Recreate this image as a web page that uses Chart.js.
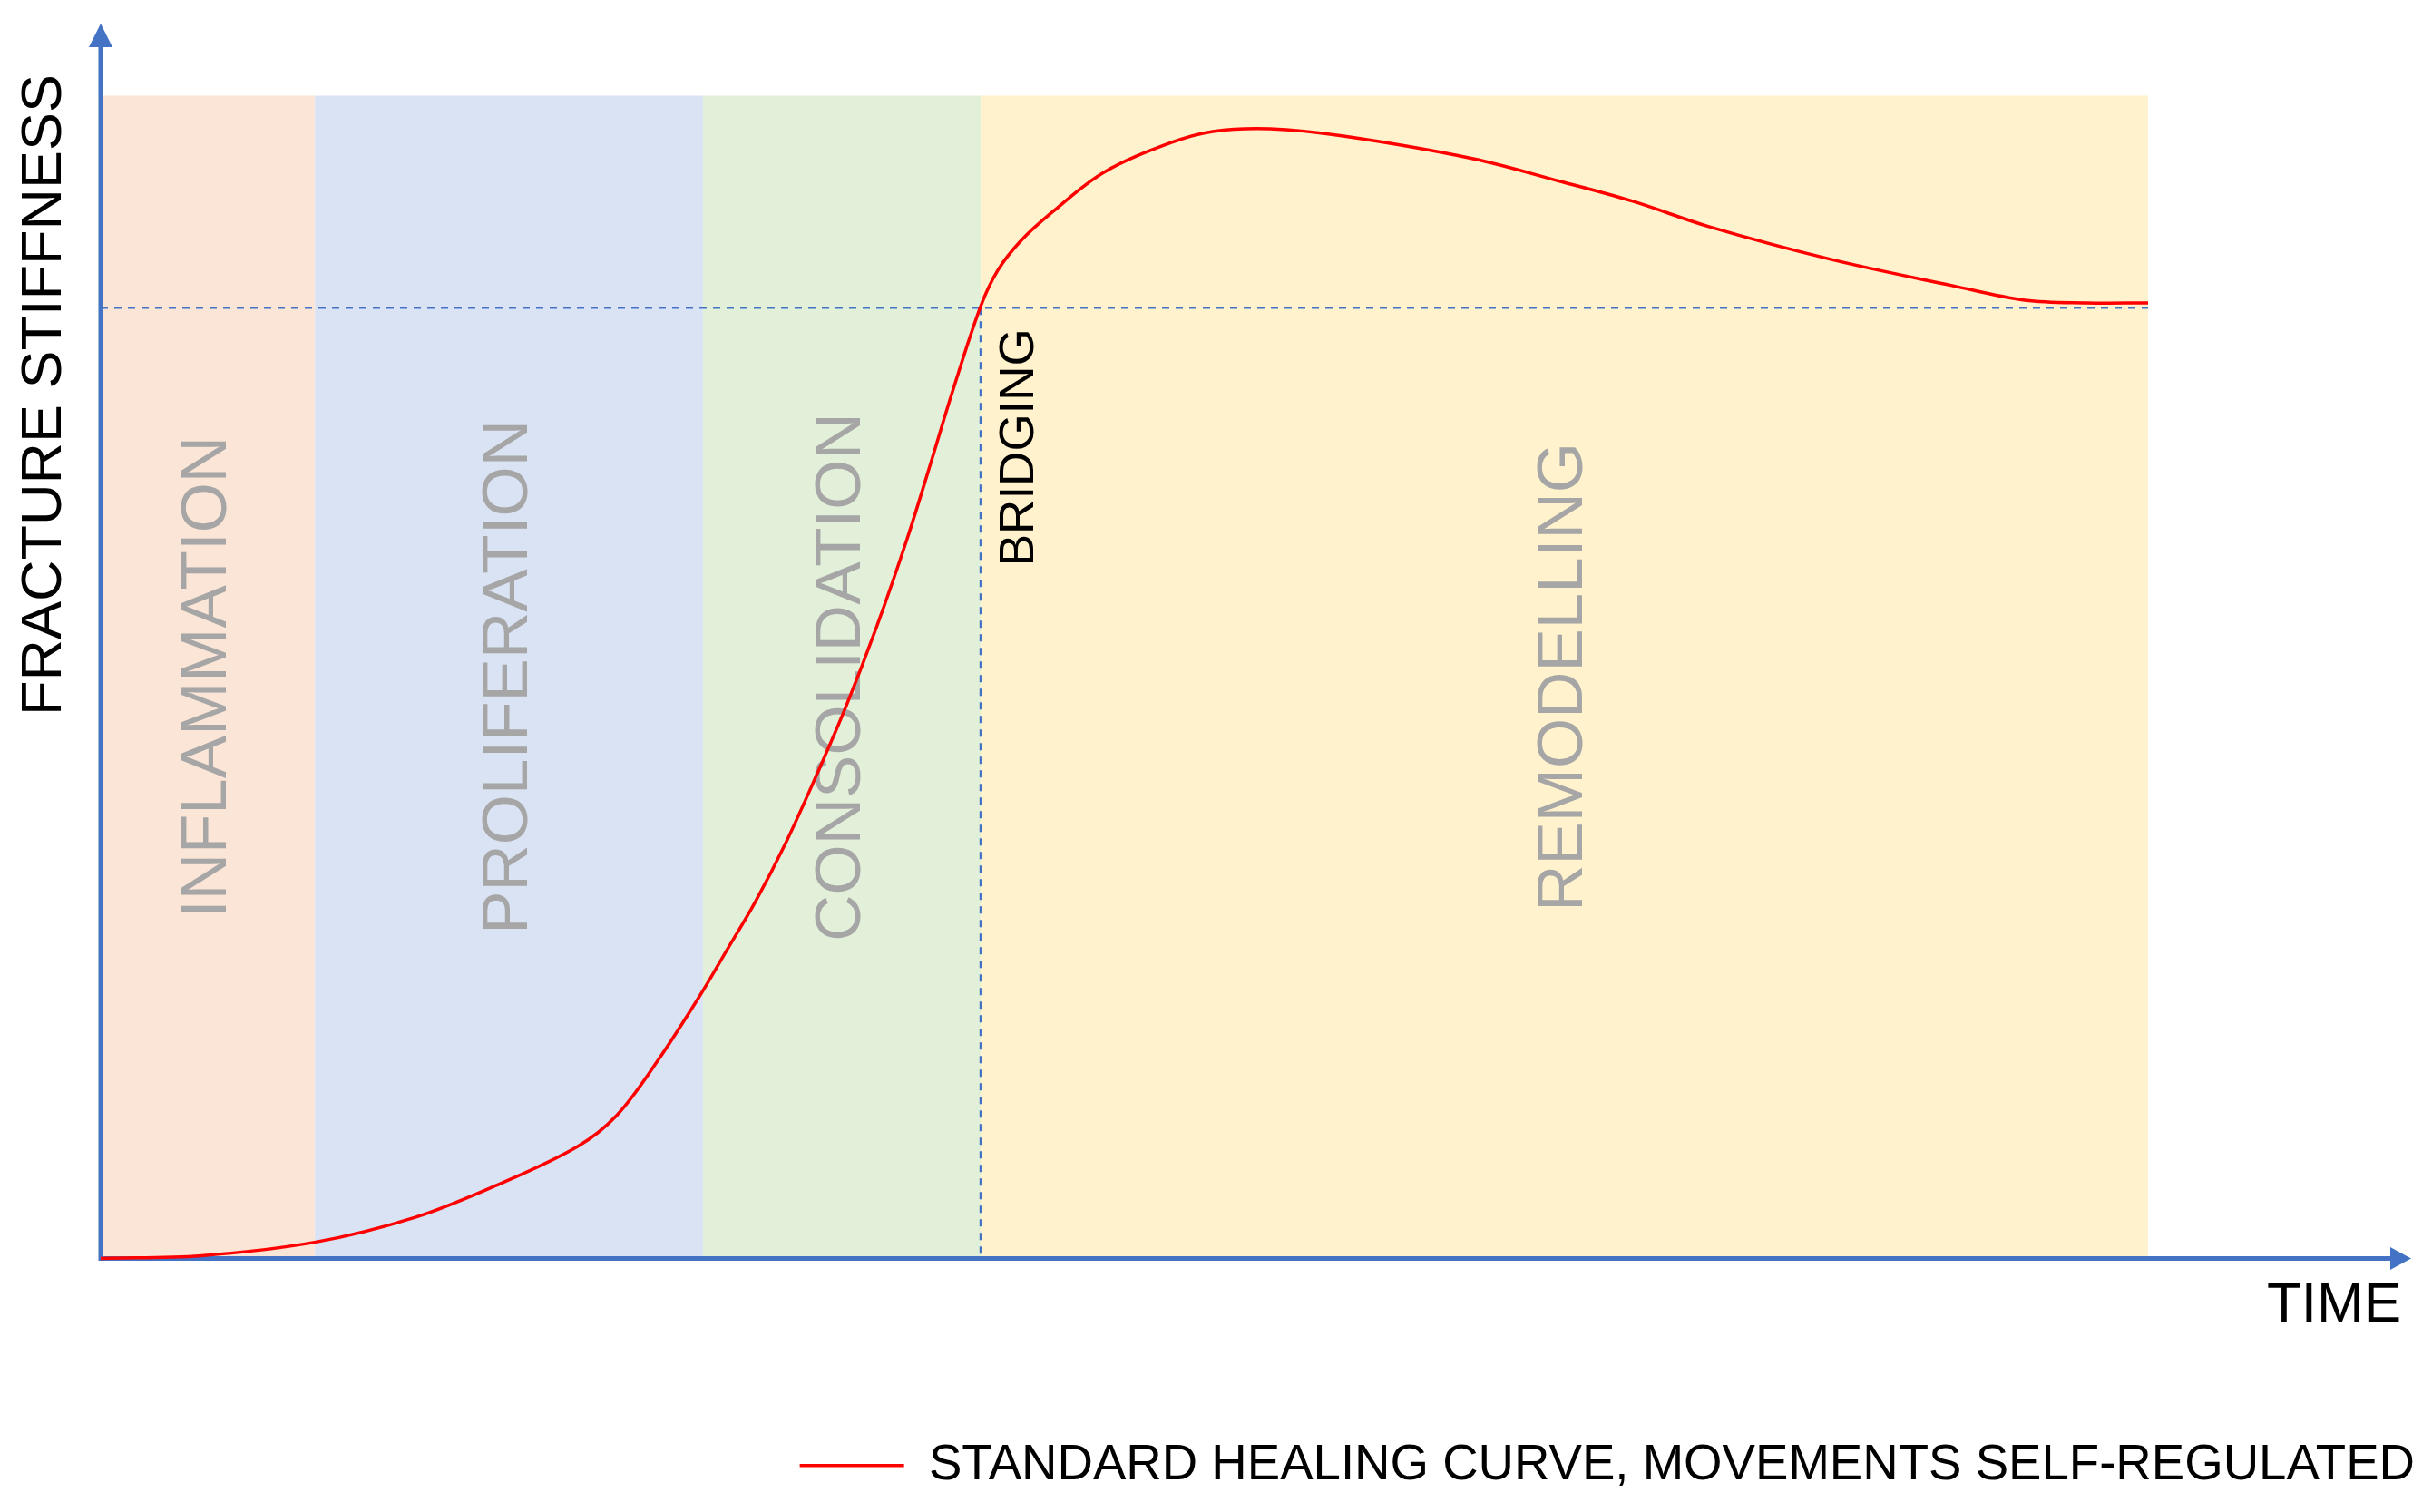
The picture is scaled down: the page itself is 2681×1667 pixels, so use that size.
<!DOCTYPE html>
<html>
<head>
<meta charset="utf-8">
<script src="https://cdn.jsdelivr.net/npm/chart.js@4.4.1/dist/chart.umd.min.js"></script>
<style>
html,body{margin:0;padding:0;background:#ffffff;}
canvas{display:block;}
</style>
</head>
<body>
<canvas id="c" width="2681" height="1667"></canvas>
<script>
// ---------- data ----------
const curveX = [0, 4.38, 9.35, 13.64, 17.15, 20.70, 22.44, 24.21, 26.10, 27.17, 28.47, 29.81, 31.10, 32.41, 33.75, 35.06, 36.12, 37.03, 38.25, 39.00, 39.98, 41.36, 43.61, 46.45, 48.34, 50.83, 54.02, 59.66, 63.45, 66.60, 69.91, 75.20, 80.48, 83.64, 86.32, 89.00];
const curveY = [0, 0.23, 1.38, 3.45, 6.13, 9.42, 12.10, 16.69, 22.36, 25.88, 30.17, 35.22, 40.74, 46.67, 53.45, 60.80, 67.41, 73.22, 80.40, 83.46, 85.91, 88.36, 91.73, 94.18, 95.18, 95.41, 94.79, 92.88, 90.96, 89.28, 87.14, 84.38, 82.16, 80.93, 80.70, 80.70];

const phaseNames  = ['INFLAMMATION', 'PROLIFERATION', 'CONSOLIDATION', 'REMODELLING'];
const phaseStarts = [0, 9.31, 26.18, 38.25];
const phaseEnds   = [9.31, 26.18, 38.25, 89.0];
const phaseTop    = 98.2;

const bridgingX = 38.25;
const bridgingY = 80.3;

const xMax = 100;
const yMax = 100;

const legendLabel = 'STANDARD HEALING CURVE, MOVEMENTS SELF-REGULATED';
const xTitle = 'TIME';
const yTitle = 'FRACTURE STIFFNESS';
const bridgingLabel = 'BRIDGING';

// ---------- styles ----------
const phaseColors = ['#fbe5d6', '#dae3f3', '#e2f0d9', '#fff2cc'];
const AXIS = '#4472c4';
const FONT = '"Liberation Sans", Arial, Helvetica, sans-serif';

Chart.defaults.font.family = FONT;
Chart.defaults.color = '#000000';

const datasets = [];
datasets.push({
  label: legendLabel,
  data: curveX.map((x, i) => ({x: x, y: curveY[i]})),
  borderColor: '#ff0000',
  backgroundColor: '#ff0000',
  borderWidth: 3.5,
  pointRadius: 0,
  tension: 0.35,
  fill: false,
  clip: false,
  order: 0
});
datasets.push({
  label: 'bridgingLevel',
  data: [{x: 0, y: bridgingY}, {x: phaseEnds[3], y: bridgingY}],
  borderColor: AXIS, borderWidth: 2.5, borderDash: [8, 7],
  pointRadius: 0, fill: false, clip: false, order: 1
});
datasets.push({
  label: 'bridgingTime',
  data: [{x: bridgingX, y: bridgingY}, {x: bridgingX, y: 0}],
  borderColor: AXIS, borderWidth: 2.5, borderDash: [8, 7],
  pointRadius: 0, fill: false, clip: false, order: 1
});
phaseNames.forEach((n, i) => {
  datasets.push({
    label: n,
    data: [{x: phaseStarts[i], y: phaseTop}, {x: phaseEnds[i], y: phaseTop}],
    borderColor: 'transparent', borderWidth: 0,
    backgroundColor: phaseColors[i],
    fill: 'origin', pointRadius: 0, order: 2
  });
});

let decorDone = false;
function drawDecor(chart) {
  const ctx = chart.ctx, a = chart.chartArea, xs = chart.scales.x, ys = chart.scales.y;
  ctx.save();
  // phase labels
  ctx.fillStyle = '#a6a6a6';
  ctx.font = '71px ' + FONT;
  ctx.textAlign = 'center';
  ctx.textBaseline = 'middle';
  phaseNames.forEach((n, i) => {
    const cx = (xs.getPixelForValue(phaseStarts[i]) + xs.getPixelForValue(phaseEnds[i])) / 2;
    const cy = (ys.getPixelForValue(0) + ys.getPixelForValue(phaseTop)) / 2;
    ctx.save();
    ctx.translate(cx, cy);
    ctx.rotate(-Math.PI / 2);
    ctx.fillText(n, 0, 0);
    ctx.restore();
  });
  // BRIDGING
  ctx.save();
  ctx.fillStyle = '#000000';
  ctx.font = '53px ' + FONT;
  ctx.textAlign = 'right';
  ctx.textBaseline = 'middle';
  ctx.translate(xs.getPixelForValue(bridgingX) + 43, ys.getPixelForValue(bridgingY) + 23);
  ctx.rotate(-Math.PI / 2);
  ctx.fillText(bridgingLabel, 0, 0);
  ctx.restore();
  // axes with arrows
  const x0 = xs.getPixelForValue(0), y0 = ys.getPixelForValue(0);
  ctx.strokeStyle = AXIS;
  ctx.fillStyle = AXIS;
  ctx.lineWidth = 5;
  ctx.beginPath();
  ctx.moveTo(x0, y0 + 2.5);
  ctx.lineTo(x0, a.top - 30);
  ctx.moveTo(x0 - 2.5, y0);
  ctx.lineTo(a.right - 12, y0);
  ctx.stroke();
  ctx.beginPath();
  ctx.moveTo(x0, a.top - 56);
  ctx.lineTo(x0 - 13, a.top - 30);
  ctx.lineTo(x0 + 13, a.top - 30);
  ctx.closePath();
  ctx.fill();
  ctx.beginPath();
  ctx.moveTo(a.right + 11, y0);
  ctx.lineTo(a.right - 12, y0 - 12.5);
  ctx.lineTo(a.right - 12, y0 + 12.5);
  ctx.closePath();
  ctx.fill();
  ctx.restore();
}

const decorPlugin = {
  id: 'decor',
  beforeDatasetsDraw() { decorDone = false; },
  beforeDatasetDraw(chart, args) {
    const ds = chart.data.datasets[args.index];
    if (decorDone || ds.order === 2) return;
    decorDone = true;
    drawDecor(chart);
  },
  afterDatasetsDraw(chart) {
    if (!decorDone) { decorDone = true; drawDecor(chart); }
  }
};

new Chart(document.getElementById('c'), {
  type: 'line',
  data: { datasets: datasets },
  options: {
    responsive: false,
    animation: false,
    devicePixelRatio: 1,
    layout: { padding: { left: 0, right: 0, top: 82, bottom: 14 } },
    plugins: {
      tooltip: { enabled: false },
      legend: {
        display: true,
        position: 'bottom',
        align: 'end',
        labels: {
          filter: (item) => item.datasetIndex === 0,
          usePointStyle: true,
          pointStyle: 'line',
          pointStyleWidth: 115,
          padding: 19,
          color: '#000000',
          font: { size: 54.6, family: FONT }
        }
      }
    },
    scales: {
      x: {
        type: 'linear',
        min: 0, max: xMax,
        grid: { display: false, drawTicks: false },
        border: { display: false },
        ticks: { display: false },
        title: {
          display: true, text: xTitle, align: 'end', color: '#000000',
          font: { size: 62, family: FONT },
          padding: { top: 15.8, bottom: 91.8 }
        }
      },
      y: {
        type: 'linear',
        position: 'left',
        min: 0, max: yMax,
        grid: { display: false, drawTicks: false },
        border: { display: false },
        ticks: { display: false },
        title: {
          display: true, text: yTitle, align: 'end', color: '#000000',
          font: { size: 63, family: FONT },
          padding: { top: 12.2, bottom: 23.2 }
        }
      },
      yRight: {
        type: 'linear',
        position: 'right',
        display: true,
        grid: { display: false, drawTicks: false },
        border: { display: false },
        ticks: { display: false },
        title: { display: false },
        afterFit: (s) => { s.width = 34; }
      }
    }
  },
  plugins: [decorPlugin]
});
</script>
</body>
</html>
